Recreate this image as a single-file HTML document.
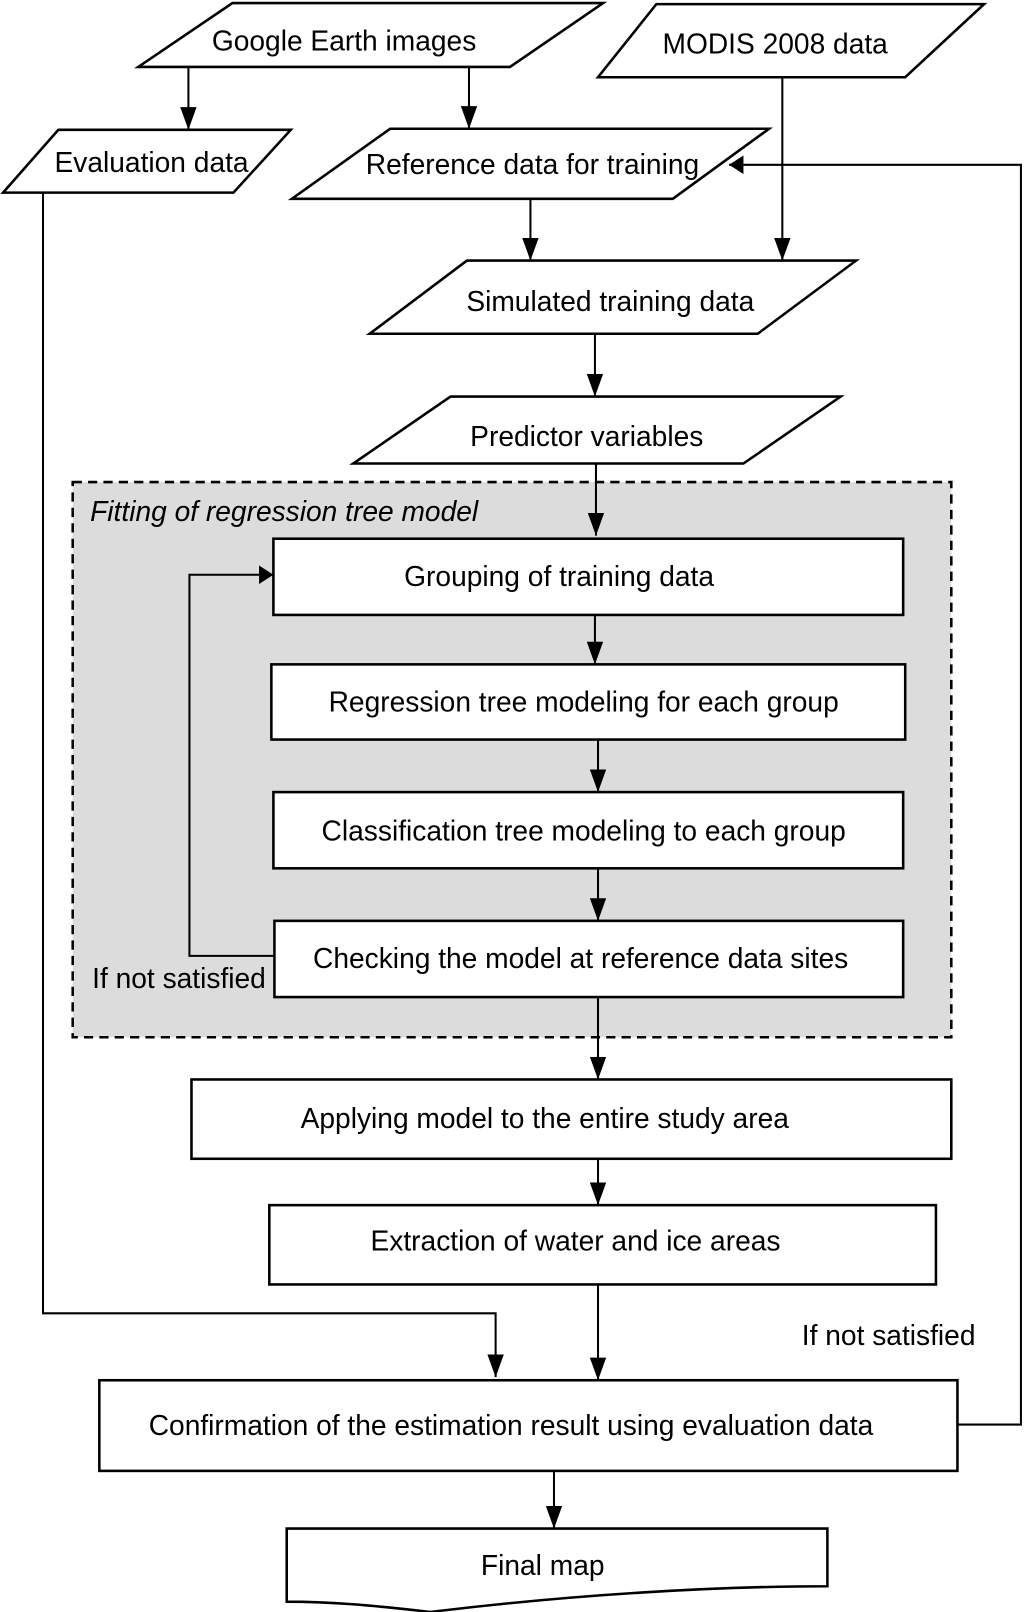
<!DOCTYPE html>
<html><head><meta charset="utf-8"><style>html,body{margin:0;padding:0;background:#fff}svg{display:block}</style></head><body>
<svg width="1024" height="1612" viewBox="0 0 1000 1565" preserveAspectRatio="none" xmlns="http://www.w3.org/2000/svg" font-family="Liberation Sans, Arial, sans-serif" font-size="27.5">
<defs><marker id="a" markerWidth="14" markerHeight="18" refX="14" refY="9" orient="auto" markerUnits="userSpaceOnUse"><path d="M0,0 L14,9 L0,18 z" fill="#000"/></marker>
<marker id="b" markerWidth="22" markerHeight="16" refX="22" refY="8" orient="auto" markerUnits="userSpaceOnUse"><path d="M0,0 L22,8 L0,16 z" fill="#000"/></marker></defs>
<g fill="none" stroke="#000" stroke-width="2.5">
<rect x="71" y="468" width="858" height="539" fill="#dcdcdc" stroke-dasharray="9,6"/>
<polygon points="227,3 589,3 498,65 135,65" fill="#fff"/>
<polygon points="641,4 961,4 884,75 584,75" fill="#fff"/>
<polygon points="57,126 284,126 228,187 3,187" fill="#fff"/>
<polygon points="381,125 751,125 657,193 285,193" fill="#fff"/>
<polygon points="456,253 836,253 740,324 361,324" fill="#fff"/>
<polygon points="440,385 821,385 726,450 345,450" fill="#fff"/>
<rect x="267" y="523" width="615" height="74" fill="#fff"/>
<rect x="265" y="645" width="619" height="73" fill="#fff"/>
<rect x="267" y="769" width="615" height="74" fill="#fff"/>
<rect x="268" y="894" width="614" height="74" fill="#fff"/>
<rect x="187" y="1048" width="742" height="77" fill="#fff"/>
<rect x="263" y="1170" width="651" height="77" fill="#fff"/>
<rect x="97" y="1340" width="838" height="88" fill="#fff"/>
<path d="M280,1484 H808 V1540 C700,1540 560,1548 420,1565 C360,1558 320,1555 280,1555 Z" fill="#fff"/>
</g>
<g stroke="#000" stroke-width="2" fill="none">
<path d="M184,65 V126" marker-end="url(#b)"/>
<path d="M458,65 V125" marker-end="url(#b)"/>
<path d="M764,75 V253" marker-end="url(#b)"/>
<path d="M518,193 V253" marker-end="url(#b)"/>
<path d="M581,324 V385" marker-end="url(#b)"/>
<path d="M582,450 V520" marker-end="url(#b)"/>
<path d="M581,597 V645" marker-end="url(#b)"/>
<path d="M584,718 V769" marker-end="url(#b)"/>
<path d="M584,843 V894" marker-end="url(#b)"/>
<path d="M268,928 H185 V558 H267" marker-end="url(#a)"/>
<path d="M584,968 V1048" marker-end="url(#b)"/>
<path d="M584,1125 V1170" marker-end="url(#b)"/>
<path d="M584,1247 V1340" marker-end="url(#b)"/>
<path d="M42,187 V1275 H484 V1337" marker-end="url(#b)"/>
<path d="M935,1383 H997 V160 H712" marker-end="url(#a)"/>
<path d="M541,1428 V1484" marker-end="url(#b)"/>
</g>
<g fill="#000" text-anchor="middle">
<text x="336" y="49">Google Earth images</text>
<text x="757" y="52">MODIS 2008 data</text>
<text x="148" y="167">Evaluation data</text>
<text x="520" y="169">Reference data for training</text>
<text x="596" y="302">Simulated training data</text>
<text x="573" y="433">Predictor variables</text>
<text x="546" y="569">Grouping of training data</text>
<text x="570" y="691">Regression tree modeling for each group</text>
<text x="570" y="816">Classification tree modeling to each group</text>
<text x="567" y="940">Checking the model at reference data sites</text>
<text x="532" y="1095">Applying model to the entire study area</text>
<text x="562" y="1214">Extraction of water and ice areas</text>
<text x="499" y="1393">Confirmation of the estimation result using evaluation data</text>
<text x="530" y="1529">Final map</text>
</g>
<g fill="#000">
<text x="88" y="506" font-style="italic">Fitting of regression tree model</text>
<text x="90" y="959">If not satisfied</text>
<text x="783" y="1306">If not satisfied</text>
</g>
</svg>
</body></html>
